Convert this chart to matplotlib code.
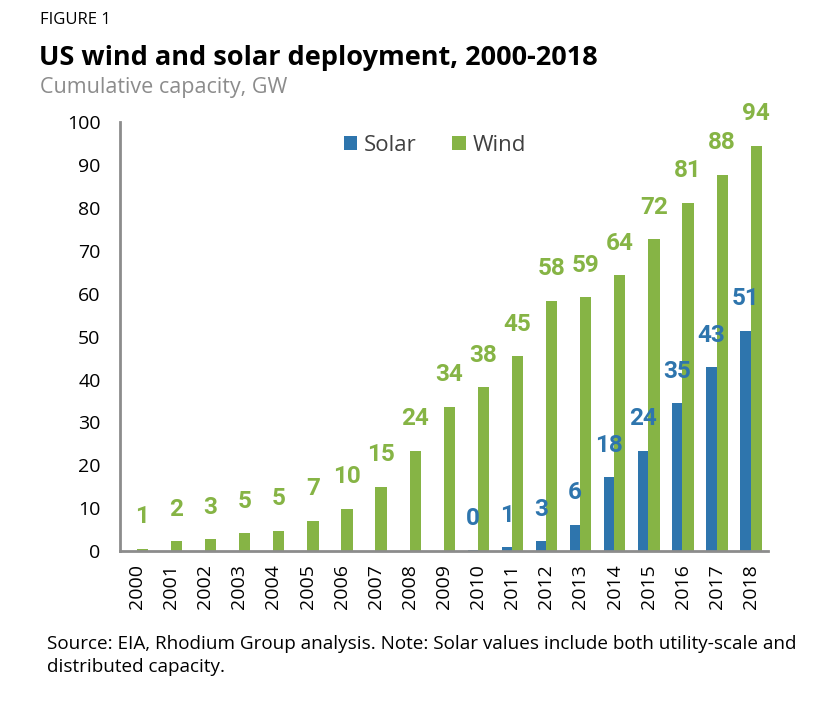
import numpy as np
import matplotlib.pyplot as plt

# Data
years = [str(y) for y in range(2000, 2019)]
wind = [0.6, 2.4, 2.9, 4.3, 4.8, 7.2, 9.9, 15.0, 23.4, 33.7, 38.2, 45.4,
        58.3, 59.1, 64.2, 72.6, 81.1, 87.6, 94.4]
wind_labels = ["1", "2", "3", "5", "5", "7", "10", "15", "24", "34", "38", "45",
               "58", "59", "64", "72", "81", "88", "94"]
solar = [0, 0, 0, 0, 0, 0, 0, 0, 0, 0, 0.3, 1.0, 2.4, 6.2, 17.3, 23.4,
         34.5, 42.9, 51.3]
solar_labels = ["", "", "", "", "", "", "", "", "", "", "0", "1", "3", "6",
                "18", "24", "35", "43", "51"]

blue = "#2E75AD"
green = "#86B445"

plt.rcParams['font.family'] = ['Open Sans', 'DejaVu Sans']

fig = plt.figure(figsize=(8.34, 7.02), dpi=100)
ax = fig.add_axes([0.1439, 0.2144, 0.7770, 0.6125])

x = np.arange(len(years))
w = 0.31
ax.bar(x - w / 2, solar, width=w, color=blue, label="Solar")
ax.bar(x + w / 2, wind, width=w + 0.02, color=green, label="Wind")

# value labels above the bars
off = 32 / 4.3
lab_font = ['Roboto', 'DejaVu Sans']
for i in range(len(years)):
    ax.text(x[i] + w / 2, wind[i] + off, wind_labels[i], ha="center", va="center",
            fontsize=17.5, fontweight="bold", color=green, family=lab_font)
    if solar_labels[i]:
        ax.text(x[i] - w / 2, solar[i] + off, solar_labels[i], ha="center", va="center",
                fontsize=17.5, fontweight="bold", color=blue, family=lab_font)

ax.set_xlim(-0.5, len(years) - 0.5)
ax.set_ylim(0, 100)
ax.set_yticks(range(0, 101, 10))
ax.set_xticks(x)
ax.set_xticklabels(years, rotation=90)
ax.tick_params(axis="y", length=0, pad=14, labelsize=14)
ax.tick_params(axis="x", length=0, pad=9, labelsize=14)
for s in ["top", "right"]:
    ax.spines[s].set_visible(False)
for s in ["left", "bottom"]:
    ax.spines[s].set_color("#8C8C8C")
    ax.spines[s].set_linewidth(2)

leg = ax.legend(loc="upper center", bbox_to_anchor=(0.486, 1.015), ncol=2, frameon=False,
                fontsize=16, handlelength=0.6, handleheight=0.6, handletextpad=0.3,
                columnspacing=1.6)
for t in leg.get_texts():
    t.set_color("#404040")

fig.text(0.048, 0.972, "FIGURE 1", fontsize=12, va="center", ha="left")
fig.text(0.047, 0.917, "US wind and solar deployment, 2000-2018", fontsize=19.5,
         fontweight="bold", va="center", ha="left")
fig.text(0.048, 0.876, "Cumulative capacity, GW", fontsize=15.5, color="#8C8C8C",
         va="center", ha="left")
fig.text(0.056, 0.066, "Source: EIA, Rhodium Group analysis. Note: Solar values include both utility-scale and\ndistributed capacity.",
         fontsize=13.6, va="center", ha="left", linespacing=1.4)

fig.savefig("out.png", dpi=100)
